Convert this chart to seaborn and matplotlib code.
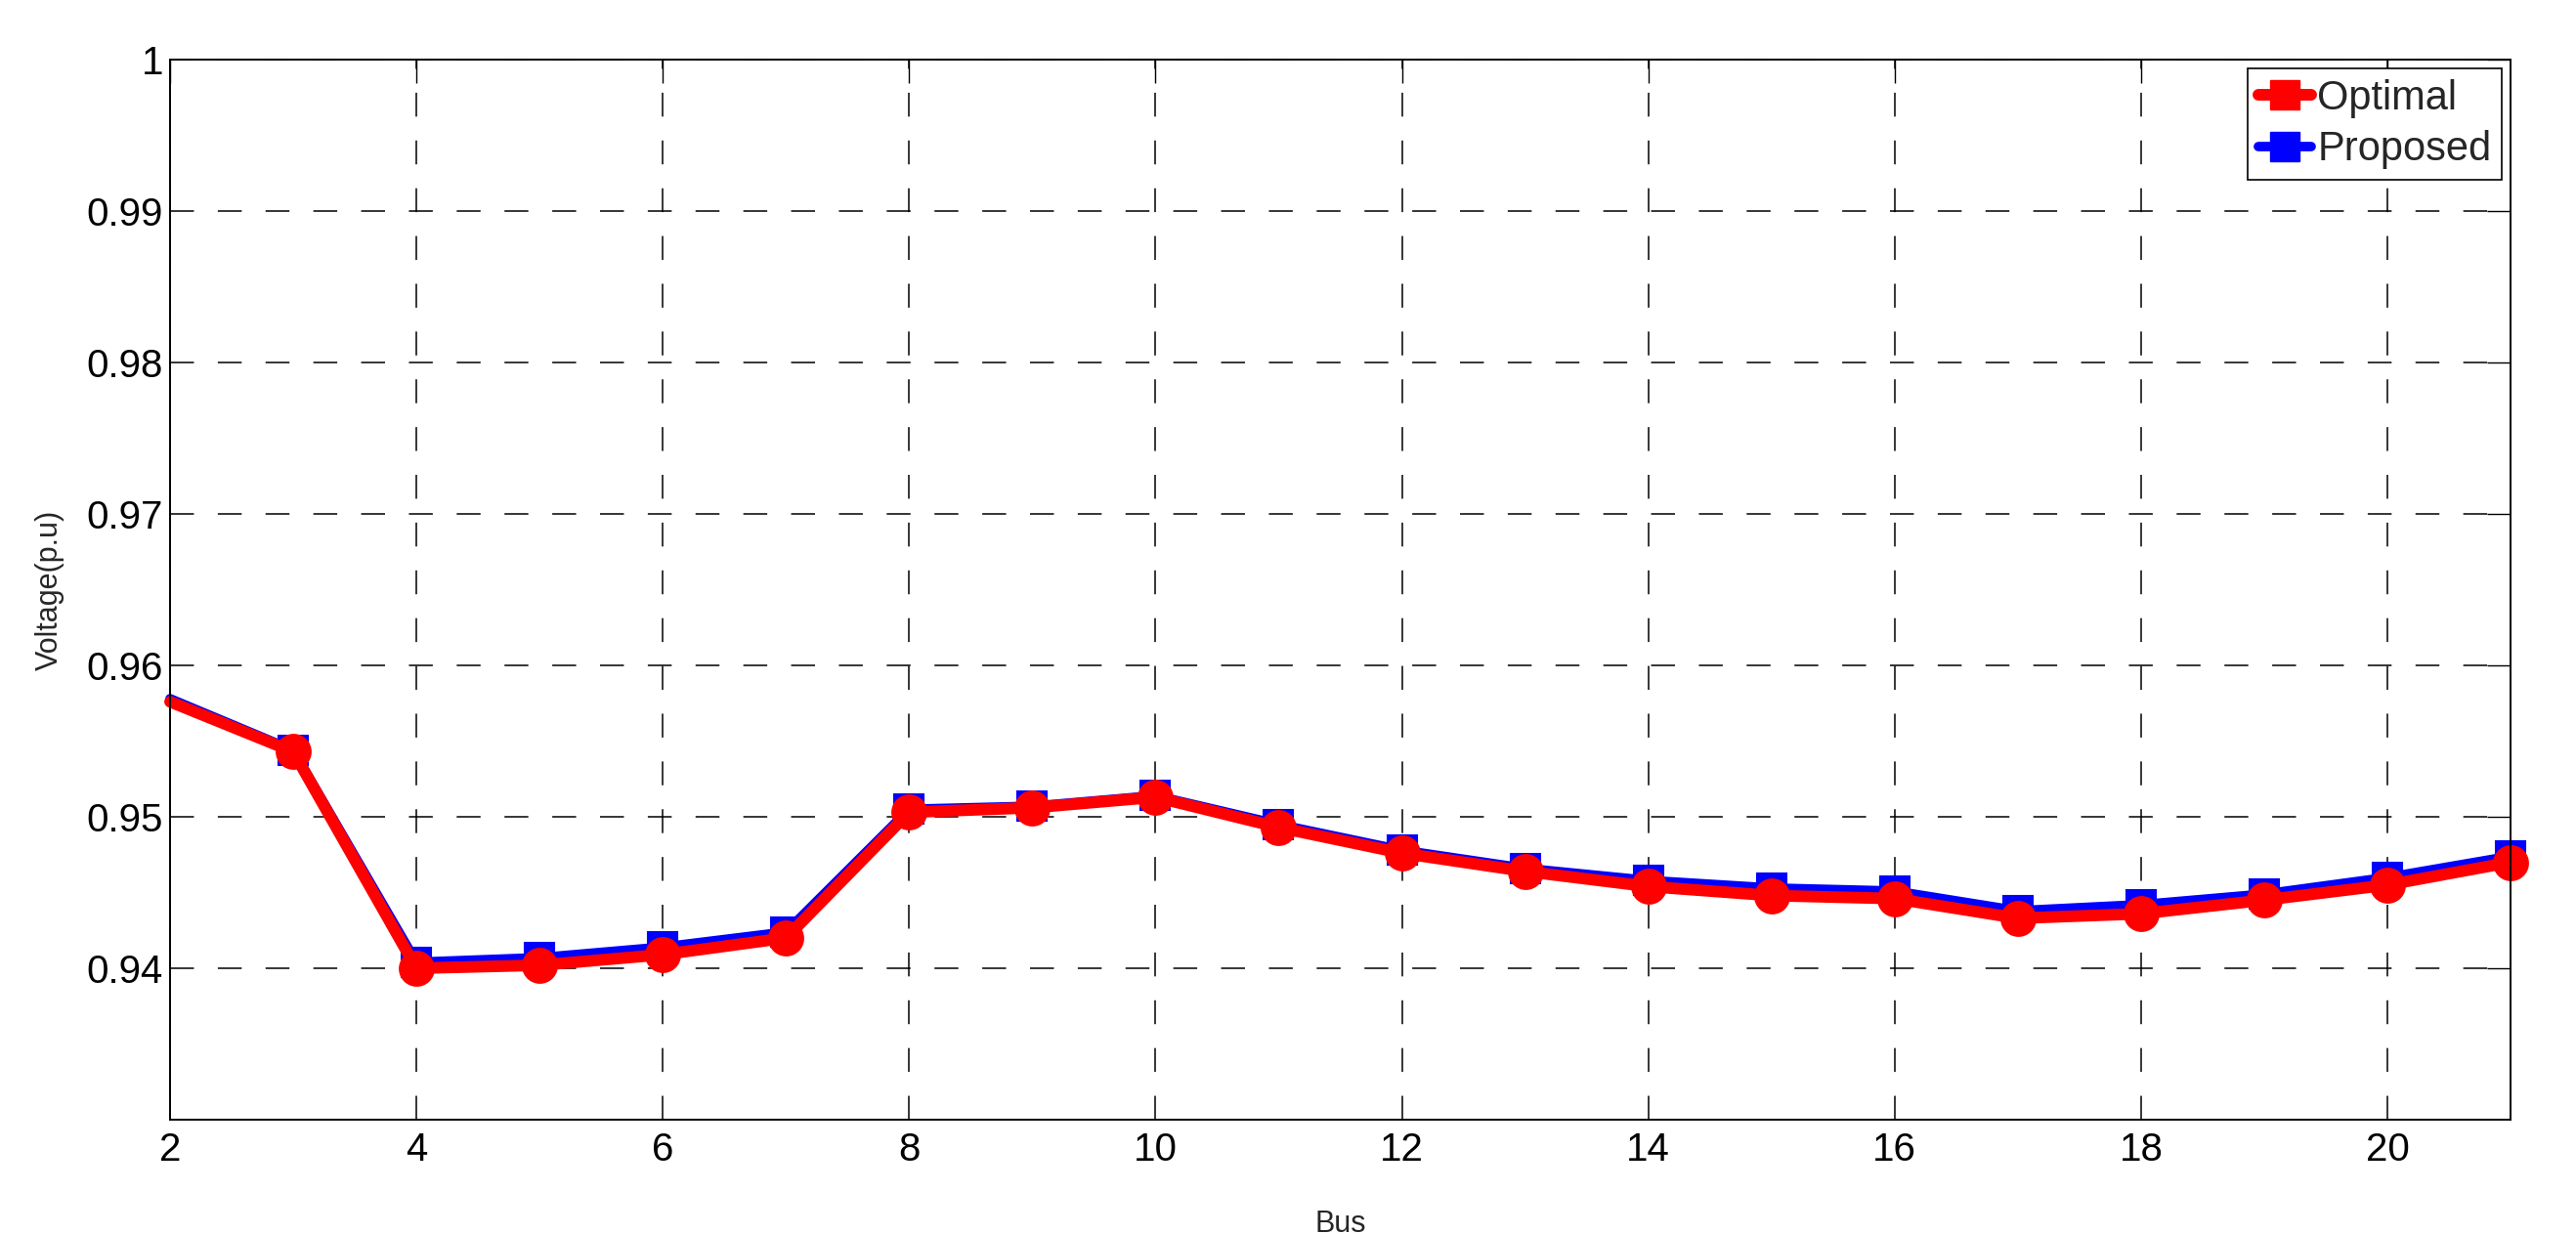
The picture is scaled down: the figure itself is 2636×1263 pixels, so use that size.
import matplotlib
matplotlib.use('Agg')
import matplotlib.pyplot as plt
import seaborn as sns
import pandas as pd
from matplotlib.lines import Line2D

# bus voltage profile (p.u)
bus = list(range(2, 22))
optimal = [0.9576, 0.9543, 0.9400, 0.9402, 0.9409, 0.9420, 0.9503, 0.9506, 0.9513, 0.9493,
           0.9476, 0.9464, 0.9454, 0.9448, 0.9446, 0.9433, 0.9436, 0.9445, 0.9455, 0.9470]
proposed = [0.9578, 0.9544, 0.9404, 0.9407, 0.9414, 0.9424, 0.9505, 0.9507, 0.9514, 0.9495,
            0.9478, 0.9466, 0.9458, 0.9453, 0.9451, 0.9438, 0.9442, 0.9449, 0.9460, 0.9474]
series_names = ['Optimal', 'Proposed']
x_ticks = [2, 4, 6, 8, 10, 12, 14, 16, 18, 20]
y_ticks = [0.94, 0.95, 0.96, 0.97, 0.98, 0.99, 1.0]
y_tick_labels = ['0.94', '0.95', '0.96', '0.97', '0.98', '0.99', '1']

df = pd.DataFrame({'Bus': bus, 'Optimal': optimal, 'Proposed': proposed})

sns.set_style('white')
plt.rcParams['font.family'] = ['Liberation Sans', 'DejaVu Sans']

fig, ax = plt.subplots(figsize=(26.36, 12.63), dpi=100)
fig.subplots_adjust(left=174 / 2636, right=2569 / 2636, top=1 - 61 / 1263, bottom=1 - 1146 / 1263)

# first point sits on the left edge without a marker in the original
mark_idx = list(range(1, len(bus)))

sns.lineplot(data=df, x='Bus', y='Proposed', ax=ax, color='blue', linewidth=7,
             marker='s', markersize=21, markerfacecolor='blue', markeredgecolor='blue',
             markeredgewidth=1.5, markevery=mark_idx, clip_on=False, legend=False)
sns.lineplot(data=df, x='Bus', y='Optimal', ax=ax, color='red', linewidth=8.6,
             marker='o', markersize=16.5, markerfacecolor='none', markeredgecolor='red',
             markeredgewidth=10, markevery=mark_idx, clip_on=False, legend=False)

ax.set_xlim(2, 21)
ax.set_ylim(0.93, 1.0)
ax.set_xticks(x_ticks)
ax.set_yticks(y_ticks)
ax.set_yticklabels(y_tick_labels)

ax.grid(True, color='black', linestyle=(0, (16, 16)), linewidth=1.1)
ax.set_axisbelow(True)

for s in ax.spines.values():
    s.set_visible(True)
    s.set_color('black')
    s.set_linewidth(1.4)

ax.tick_params(direction='in', length=17, width=1, top=True, right=True,
               labelsize=29, colors='black')
ax.tick_params(axis='x', pad=8.6)
ax.tick_params(axis='y', pad=5)

ax.set_xlabel('Bus', fontsize=22)
ax.set_ylabel('Voltage(p.u)', fontsize=22)
ax.xaxis.set_label_coords(0.5, -0.085)
ax.yaxis.set_label_coords(-0.045, 0.5)

handles = [
    Line2D([0], [0], color='red', linewidth=8.6, marker='s', markersize=22,
           markerfacecolor='red', markeredgecolor='red'),
    Line2D([0], [0], color='blue', linewidth=7, marker='s', markersize=22,
           markerfacecolor='blue', markeredgecolor='blue'),
]
leg = ax.legend(handles, series_names, loc='upper right', fontsize=30, frameon=True,
                fancybox=False, edgecolor='black', framealpha=1, borderaxespad=0.22,
                borderpad=0.25, handlelength=1.3, handletextpad=0.15, labelspacing=0.3)
leg.get_frame().set_linewidth(1.2)

fig.savefig('out.png', dpi=100)
